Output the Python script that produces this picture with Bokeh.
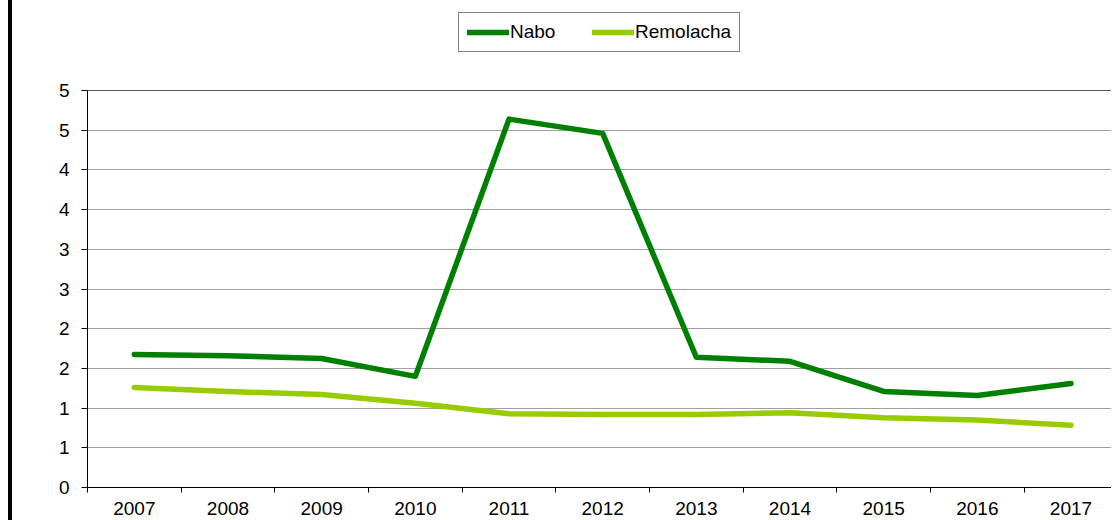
from bokeh.plotting import figure
from bokeh.models import FixedTicker, Legend, LegendItem, Span
from bokeh.embed import file_html
from bokeh.resources import INLINE

years = [2007, 2008, 2009, 2010, 2011, 2012, 2013, 2014, 2015, 2016, 2017]
nabo = [1.675, 1.66, 1.625, 1.40, 4.64, 4.46, 1.64, 1.59, 1.21, 1.16, 1.31]
remolacha = [1.26, 1.21, 1.17, 1.06, 0.93, 0.92, 0.92, 0.94, 0.88, 0.85, 0.785]
y_ticks = [0, 0.5, 1, 1.5, 2, 2.5, 3, 3.5, 4, 4.5, 5]
y_tick_labels = ["0", "1", "1", "2", "2", "3", "3", "4", "4", "5", "5"]
series_names = ["Nabo", "Remolacha"]
series_colors = ["#008000", "#99CC00"]

FONT = "Liberation Sans"

# frame extends above the value 5 so the legend can sit inside it
p = figure(width=1103, height=520, output_backend="svg", toolbar_location=None,
           x_range=(years[0] - 0.5, years[0] - 0.5 + 10.975), y_range=(0, 6.033),
           min_border_left=75, min_border_right=0, min_border_top=8, min_border_bottom=33)
p.styles = {"margin-left": "8px", "border-left": "4px solid black"}
p.outline_line_color = None
p.background_fill_color = "white"
p.border_fill_color = "white"

r1 = p.line(years, nabo, line_color=series_colors[0], line_width=5.5, line_cap="round", line_join="round")
r2 = p.line(years, remolacha, line_color=series_colors[1], line_width=5.5, line_cap="round", line_join="round")

# axes
boundaries = [y - 0.5 for y in years] + [years[-1] + 0.5]
p.xaxis.ticker = FixedTicker(ticks=years, minor_ticks=boundaries)
p.xaxis.major_tick_out = 0
p.xaxis.major_tick_in = 0
p.xaxis.minor_tick_out = 5
p.xaxis.minor_tick_in = 0
p.xaxis.minor_tick_line_color = "black"
p.xaxis.axis_line_color = "black"
p.xaxis.major_label_standoff = 9
p.xgrid.grid_line_color = None

p.yaxis.ticker = FixedTicker(ticks=y_ticks)
p.yaxis.bounds = (0, 5)
p.yaxis.major_label_overrides = {t: l for t, l in zip(y_ticks, y_tick_labels)}
p.yaxis.major_tick_out = 6
p.yaxis.major_tick_in = 0
p.yaxis.minor_tick_line_color = None
p.yaxis.axis_line_color = "black"
p.yaxis.major_label_standoff = 12
p.ygrid.grid_line_color = "#A0A0A0"
p.ygrid.grid_line_width = 1

for ax in (p.xaxis, p.yaxis):
    ax.major_label_text_font = FONT
    ax.major_label_text_font_size = "19px"
    ax.major_label_text_color = "black"
    ax.major_tick_line_color = "black"

p.add_layout(Span(location=5, dimension="width", line_color="#595959", line_width=1))

legend = Legend(items=[LegendItem(label=series_names[0], renderers=[r1]),
                       LegendItem(label=series_names[1], renderers=[r2])],
                orientation="horizontal", location=(371, 435))
legend.label_text_font = FONT
legend.label_text_font_size = "19px"
legend.label_text_color = "black"
legend.glyph_width = 42
legend.glyph_height = 20
legend.label_height = 20
legend.label_standoff = 1
legend.label_width = 80
legend.spacing = 2
legend.padding = 8
legend.border_line_color = "black"
legend.border_line_width = 1
legend.background_fill_alpha = 1
p.add_layout(legend, "center")

open("out.html", "w").write(file_html(p, INLINE))
